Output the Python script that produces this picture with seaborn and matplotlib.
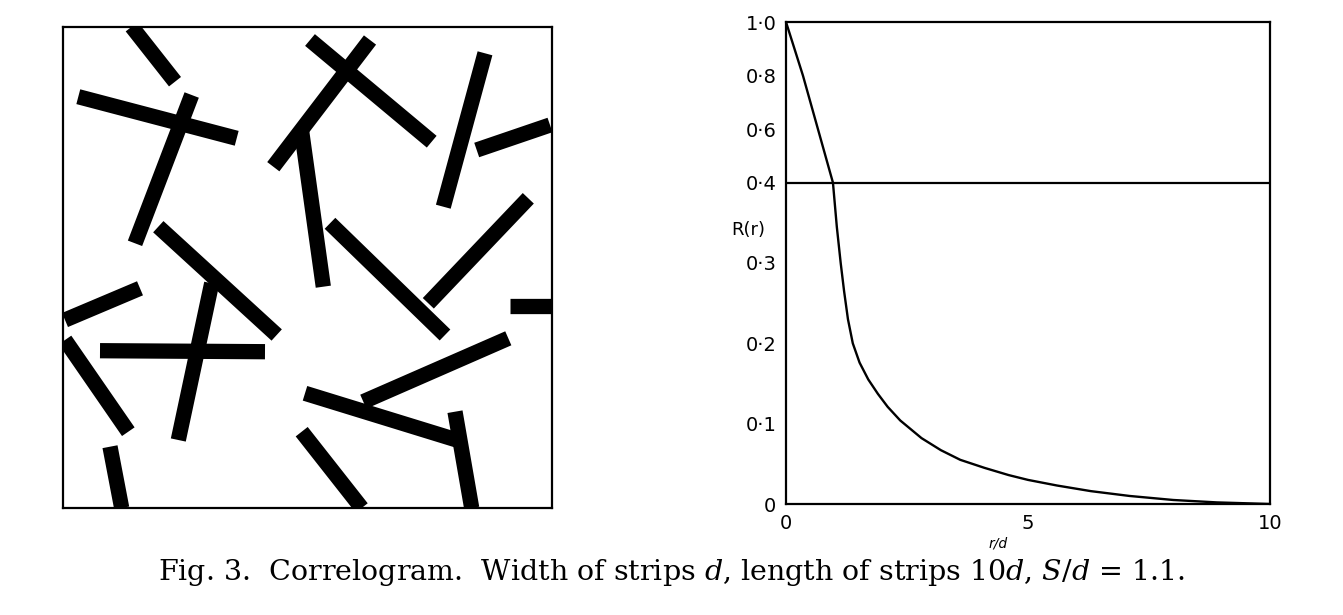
import numpy as np
import pandas as pd
import matplotlib
matplotlib.use("Agg")
import matplotlib.pyplot as plt
import seaborn as sns

# left panel: strip centre lines (x0, y0, x1, y1) in picture units of the square
strip_x0 = [131.7, 78.3, 191.7, 310.0, 370.0, 301.7, 485.0, 550.0, 330.0, 428.3, 510.0,
            158.3, 211.7, 100.0, 140.0, 65.0, 110.0, 508.3, 305.0, 455.0, 301.7]
strip_y0 = [26.7, 96.7, 95.0, 40.0, 40.0, 131.7, 53.3, 125.0, 223.3, 303.3, 306.0,
            226.7, 283.3, 350.7, 288.3, 340.0, 446.7, 338.3, 393.3, 411.7, 431.7]
strip_x1 = [175.0, 236.7, 135.0, 431.7, 273.3, 323.3, 443.3, 476.7, 445.0, 528.3, 551.7,
            276.7, 178.3, 265.0, 65.0, 128.3, 121.7, 363.3, 456.7, 471.7, 361.7]
strip_y1 = [81.7, 138.3, 243.3, 141.7, 166.7, 286.7, 206.7, 150.0, 335.0, 198.3, 306.0,
            335.0, 440.0, 351.7, 320.0, 431.7, 508.0, 401.7, 440.0, 508.0, 508.0]

# right panel: correlogram R(r) against r/d
r_d = [0.0, 0.35, 0.66, 0.97, 1.05, 1.13, 1.2, 1.28, 1.38, 1.52, 1.7, 1.9, 2.1, 2.36,
       2.8, 3.2, 3.6, 4.1, 4.6, 5.0, 5.6, 6.3, 7.1, 8.0, 8.9, 10.0]
R_r = [1.0, 0.8, 0.6, 0.4, 0.345, 0.3, 0.265, 0.23, 0.2, 0.176, 0.155, 0.137, 0.121, 0.104,
       0.082, 0.067, 0.055, 0.045, 0.036, 0.03, 0.023, 0.016, 0.010, 0.005, 0.002, 0.0]
y_ticks = [0, 0.1, 0.2, 0.3, 0.4, 0.6, 0.8, 1.0]
y_labels = ["0", "0·1", "0·2", "0·3", "0·4", "0·6", "0·8", "1·0"]
x_ticks = [0, 5, 10]
x_labels = ["0", "5", "10"]
ref_level = 0.4

sns.set_style("white")
plt.rcParams["font.family"] = ["DejaVu Sans"]
plt.rcParams["mathtext.fontset"] = "dejavuserif"
plt.rcParams["text.color"] = "black"
plt.rcParams["axes.labelcolor"] = "black"
plt.rcParams["xtick.color"] = "black"
plt.rcParams["ytick.color"] = "black"

W, H = 1343, 615
fig = plt.figure(figsize=(W / 100, H / 100), dpi=100)

# ---- left: random strips
axl = fig.add_axes([63 / W, 1 - 508 / H, (552 - 63) / W, (508 - 27) / H])
strips = []
for i in range(len(strip_x0)):
    strips.append({"strip": i, "x": strip_x0[i], "y": strip_y0[i]})
    strips.append({"strip": i, "x": strip_x1[i], "y": strip_y1[i]})
strips = pd.DataFrame(strips)
sns.lineplot(data=strips, x="x", y="y", units="strip", estimator=None, sort=False,
             color="black", lw=11, solid_capstyle="butt", legend=False, ax=axl)
axl.set_xlim(63, 552)
axl.set_ylim(508, 27)
axl.set_xticks([])
axl.set_yticks([])
axl.set_xlabel("")
axl.set_ylabel("")
for s in axl.spines.values():
    s.set_visible(True)
    s.set_linewidth(1.6)
    s.set_color("black")

# ---- right: correlogram, scale compressed above 0.4
def fwd(y):
    y = np.asarray(y, dtype=float)
    return np.where(y <= 0.4, y, 0.4 + (y - 0.4) / 3)

def inv(t):
    t = np.asarray(t, dtype=float)
    return np.where(t <= 0.4, t, 0.4 + (t - 0.4) * 3)

axr = fig.add_axes([786 / W, 1 - 504 / H, (1270 - 786) / W, (504 - 22) / H])
axr.set_yscale("function", functions=(fwd, inv))
curve = pd.DataFrame({"r": r_d, "R": R_r})
sns.lineplot(data=curve, x="r", y="R", color="black", lw=1.7, estimator=None, ax=axr)
axr.axhline(ref_level, color="black", lw=1.6)
axr.set_xlim(0, 10)
axr.set_ylim(0, 1.0)
axr.set_yticks(y_ticks)
axr.set_yticklabels(y_labels, fontsize=14)
axr.set_xticks(x_ticks)
axr.set_xticklabels(x_labels, fontsize=14)
axr.tick_params(direction="in", length=5, width=1.6, color="black", pad=7)
axr.set_ylabel("R(r)", rotation=0, fontsize=13, ha="center", va="center")
axr.yaxis.set_label_coords(-0.079, 0.568)
axr.set_xlabel("r/d", fontsize=10, style="italic")
axr.xaxis.set_label_coords(0.438, -0.068)
for s in axr.spines.values():
    s.set_visible(True)
    s.set_linewidth(1.6)
    s.set_color("black")

fig.text(0.5, 1 - 573 / H,
         r"Fig. 3.  Correlogram.  Width of strips $d$, length of strips 10$d$, $S/d$ = 1.1.",
         ha="center", va="center", fontsize=20.5, family="DejaVu Serif")

fig.savefig("out.png", dpi=100)
